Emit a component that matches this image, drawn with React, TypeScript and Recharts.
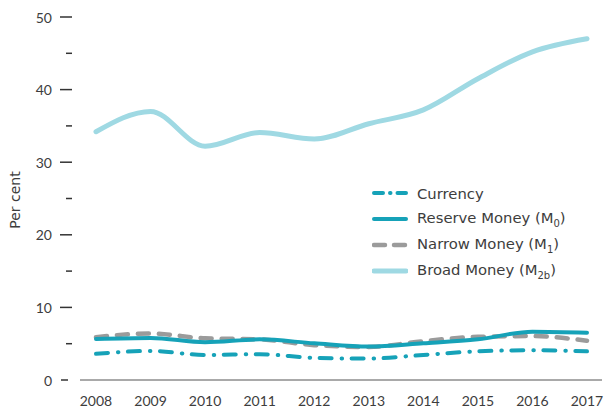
import React from 'react';
import { LineChart, Line, XAxis, YAxis, Legend } from 'recharts';

const years = ['2008', '2009', '2010', '2011', '2012', '2013', '2014', '2015', '2016', '2017'];
const currency = [3.6, 4.0, 3.45, 3.55, 3.05, 2.95, 3.45, 3.95, 4.1, 3.95];
const reserve = [5.65, 5.8, 5.2, 5.6, 5.05, 4.6, 5.05, 5.6, 6.65, 6.5];
const narrow = [5.9, 6.4, 5.75, 5.6, 4.8, 4.55, 5.35, 5.95, 6.05, 5.4];
const broad = [34.2, 37.0, 32.2, 34.1, 33.2, 35.3, 37.2, 41.5, 45.2, 47.0];
const yTicks = [0, 5, 10, 15, 20, 25, 30, 35, 40, 45, 50];

const data = years.map((y, i) => ({
  year: y,
  currency: currency[i],
  reserve: reserve[i],
  narrow: narrow[i],
  broad: broad[i],
}));

const TEAL = '#16a2b8';
const GRAY = '#9b9b9b';
const LIGHT = '#9fd9e3';
const TEXT = '#3d3d3d';
const FONT = 'Lato, "Open Sans", sans-serif';
const LFONT = '"DejaVu Sans", sans-serif';
const CUR_DASH = '12 10 0.5 9.5';
const NAR_DASH = '11 10';

const YTick = (props: any) => {
  const { x, y, payload } = props;
  const v = payload.value;
  if (v === 0) {
    return (
      <g>
        <line x1={x - 19} x2={x - 12} y1={y} y2={y} stroke="#333" strokeWidth={1.5} />
        <text x={x - 28} y={y} textAnchor="end" dominantBaseline="central" fontSize={14} fill={TEXT} fontFamily={FONT}>0</text>
      </g>
    );
  }
  const major = v % 10 === 0;
  return (
    <g>
      <line x1={major ? x - 20 : x - 14} x2={x - 8} y1={y} y2={y} stroke="#333" strokeWidth={1.5} />
      {major && (
        <text x={x - 28} y={y} textAnchor="end" dominantBaseline="central" fontSize={14} fill={TEXT} fontFamily={FONT}>{v}</text>
      )}
    </g>
  );
};

const XTick = (props: any) => {
  const { x, y, payload } = props;
  return (
    <text x={x} y={y + 20} textAnchor="middle" dominantBaseline="central" fontSize={14} fill={TEXT} fontFamily={FONT}>
      {payload.value}
    </text>
  );
};

const YLabel = (props: any) => {
  const { viewBox } = props;
  const cx = 15;
  const cy = viewBox.y + viewBox.height / 2 + 1.5;
  return (
    <text x={cx} y={cy} transform={`rotate(-90 ${cx} ${cy})`} textAnchor="middle" dominantBaseline="central" fontSize={14} fill={TEXT} fontFamily={LFONT}>
      Per cent
    </text>
  );
};

const legendItems = [
  { label: 'Currency', sub: '', color: TEAL, dash: '9 7 0.5 7', width: 4 },
  { label: 'Reserve Money (M', sub: '0', color: TEAL, dash: '', width: 4 },
  { label: 'Narrow Money (M', sub: '1', color: GRAY, dash: '11 9', width: 4.5 },
  { label: 'Broad Money (M', sub: '2b', color: LIGHT, dash: '', width: 5 },
];

const renderLegend = () => (
  <div style={{ fontFamily: LFONT, fontSize: 14.8, color: TEXT }}>
    {legendItems.map((it) => (
      <div key={it.label} style={{ display: 'flex', alignItems: 'center', height: 26 }}>
        <svg width={36} height={10} style={{ display: 'block' }}>
          <line x1={2} x2={34} y1={5} y2={5} stroke={it.color} strokeWidth={it.width} strokeLinecap="round" strokeDasharray={it.dash || undefined} />
        </svg>
        <span style={{ marginLeft: 9, whiteSpace: 'nowrap' }}>
          {it.label}
          {it.sub && (
            <>
              <sub style={{ fontSize: 10 }}>{it.sub}</sub>)
            </>
          )}
        </span>
      </div>
    ))}
  </div>
);

export default function App() {
  return (
    <div style={{ position: 'absolute', left: 0, top: 0, width: 605, height: 414 }}>
      <LineChart width={605} height={414} data={data} margin={{ top: 17, right: 3, left: 0, bottom: 4 }}>
        <XAxis
          dataKey="year"
          padding={{ left: 16, right: 15 }}
          axisLine={{ stroke: '#555', strokeWidth: 1 }}
          tickLine={false}
          tickSize={0}
          tickMargin={0}
          height={30}
          tick={<XTick />}
          interval={0}
        />
        <YAxis
          domain={[0, 50]}
          ticks={yTicks}
          interval={0}
          width={80}
          axisLine={false}
          tickLine={false}
          tickSize={0}
          tickMargin={0}
          tick={<YTick />}
          label={<YLabel />}
        />
        <Legend
          content={renderLegend}
          layout="vertical"
          align="center"
          verticalAlign="middle"
          wrapperStyle={{ position: 'absolute', left: 372, top: 180, width: 230 }}
        />
        <Line type="monotone" dataKey="broad" stroke={LIGHT} strokeWidth={5} dot={false} strokeLinecap="round" isAnimationActive={false} />
        <Line type="monotone" dataKey="narrow" stroke={GRAY} strokeWidth={4.5} strokeDasharray={NAR_DASH} dot={false} strokeLinecap="round" isAnimationActive={false} />
        <Line type="monotone" dataKey="reserve" stroke={TEAL} strokeWidth={4} dot={false} strokeLinecap="round" isAnimationActive={false} />
        <Line type="monotone" dataKey="currency" stroke={TEAL} strokeWidth={4} strokeDasharray={CUR_DASH} dot={false} strokeLinecap="round" isAnimationActive={false} />
      </LineChart>
    </div>
  );
}
